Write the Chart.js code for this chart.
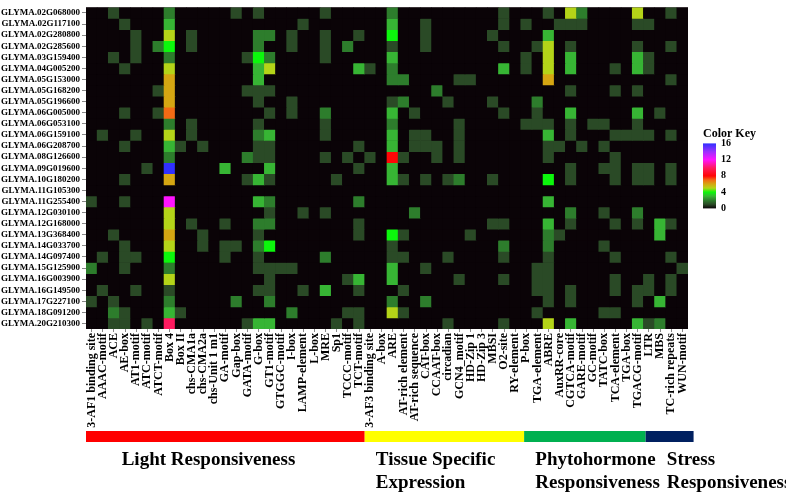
<!DOCTYPE html>
<html>
<head>
<meta charset="utf-8">
<script src="https://cdn.jsdelivr.net/npm/chart.js@4.4.1/dist/chart.umd.min.js"></script>
<style>
  html, body { margin: 0; padding: 0; background: #fff; }
  #wrap { width: 786px; height: 493px; position: relative; }
</style>
</head>
<body>
<div id="wrap"><canvas id="heat"></canvas></div>
<script>
// rows of the heatmap, top to bottom
const genes = [
  'GLYMA.02G068000', 'GLYMA.02G117100', 'GLYMA.02G280800', 'GLYMA.02G285600', 'GLYMA.03G159400',
  'GLYMA.04G005200', 'GLYMA.05G153000', 'GLYMA.05G168200', 'GLYMA.05G196600', 'GLYMA.06G005000',
  'GLYMA.06G053100', 'GLYMA.06G159100', 'GLYMA.06G208700', 'GLYMA.08G126600', 'GLYMA.09G019600',
  'GLYMA.10G180200', 'GLYMA.11G105300', 'GLYMA.11G255400', 'GLYMA.12G030100', 'GLYMA.12G168000',
  'GLYMA.13G368400', 'GLYMA.14G033700', 'GLYMA.14G097400', 'GLYMA.15G125900', 'GLYMA.16G003900',
  'GLYMA.16G149500', 'GLYMA.17G227100', 'GLYMA.18G091200', 'GLYMA.20G210300'
];

// columns, left to right
const motifs = [
  '3-AF1 binding site', 'AAAC-motif', 'ACE', 'AE-box', 'AT1-motif', 'ATC-motif', 'ATCT-motif', 'Box 4',
  'Box II', 'chs-CMA1a', 'chs-CMA2a', 'chs-Unit 1 m1', 'GA-motif', 'Gap-box', 'GATA-motif', 'G-box',
  'GT1-motif', 'GTGGC-motif', 'I-box', 'LAMP-element', 'L-box', 'MRE', 'Sp1', 'TCCC-motif', 'TCT-motif',
  '3-AF3 binding site', 'A-box', 'ARE', 'AT-rich element', 'AT-rich sequence', 'CAT-box', 'CCAAT-box',
  'circadian', 'GCN4_motif', 'HD-Zip 1', 'HD-Zip 3', 'MBSI', 'O2-site', 'RY-element', 'P-box',
  'TGA-element', 'ABRE', 'AuxRR-core', 'CGTCA-motif', 'GARE-motif', 'GC-motif', 'TATC-box', 'TCA-element',
  'TGA-box', 'TGACG-motif',
  'LTR', 'MBS', 'TC-rich repeats', 'WUN-motif'
];

const groupNames = [['Light Responsiveness'], ['Tissue Specific', 'Expression'], ['Phytohormone', 'Responsiveness'], ['Stress', 'Responsiveness']];
const groupColors = ['#ff0000', '#ffff00', '#00b050', '#002060'];
const keyTicks = [16, 12, 8, 4, 0];

// element counts, one line per gene (54 motifs each)
const counts = [
  [0,0,1,0,0,0,0,2,0,0, 0,0,0,1,0,1,0,0,0,0, 0,1,0,0,0,0,0,2,0,0, 0,0,0,0,0,0,0,1,0,0, 0,1,0,5,2,0,0,0,0,5, 0,0,1,0],
  [0,0,0,1,0,0,0,3,0,0, 0,0,0,0,0,0,0,0,0,1, 0,0,0,0,0,0,0,3,0,0, 1,0,0,0,0,0,0,1,0,1, 0,0,1,1,1,0,0,0,0,1, 1,0,0,0],
  [0,0,0,0,1,0,0,5,0,1, 0,0,0,0,0,2,2,0,1,0, 0,1,0,0,1,0,0,4,0,0, 1,0,0,0,0,0,1,0,0,0, 0,3,0,0,0,0,0,0,0,0, 0,0,0,0],
  [0,0,0,0,1,0,2,4,0,1, 0,0,0,0,0,2,0,0,1,0, 0,1,0,2,0,0,0,1,0,0, 1,0,0,0,0,0,0,1,0,0, 1,5,0,1,0,0,0,0,0,1, 0,0,1,0],
  [0,0,1,0,1,0,0,2,0,0, 0,0,0,0,1,4,2,0,0,0, 0,1,0,0,0,0,0,3,0,0, 0,0,0,0,0,0,0,0,0,1, 0,5,0,3,0,0,0,0,0,3, 1,0,0,0],
  [0,0,0,1,0,0,0,5,0,0, 0,0,0,0,0,3,5,0,0,0, 0,0,0,0,3,1,0,2,0,0, 0,0,0,0,0,0,0,3,0,1, 0,5,0,3,0,0,0,1,0,3, 1,0,0,0],
  [0,0,0,0,0,0,0,6,0,0, 0,0,0,0,0,3,0,0,0,0, 0,0,0,0,0,0,0,2,2,0, 0,0,0,1,1,0,0,0,0,0, 0,6,0,0,0,0,0,0,0,0, 0,0,1,0],
  [0,0,0,0,0,0,1,6,0,0, 0,0,0,0,1,1,1,0,0,0, 0,0,0,0,0,0,0,0,0,0, 0,2,0,0,0,0,0,0,0,0, 0,0,0,1,0,0,0,1,0,1, 0,0,0,0],
  [0,0,0,0,0,0,0,6,0,0, 0,0,0,0,0,1,0,0,1,0, 0,0,0,0,0,0,0,1,2,0, 0,0,1,0,0,0,1,0,0,0, 2,0,0,0,0,0,0,0,0,0, 0,0,0,0],
  [0,0,0,1,0,0,1,7,0,0, 0,0,0,0,0,0,1,0,1,0, 0,2,0,0,0,0,0,3,0,1, 0,0,0,0,0,0,0,1,0,0, 1,0,0,3,0,0,0,0,0,3, 0,1,0,0],
  [0,0,0,0,0,0,0,2,0,1, 0,0,0,0,0,1,0,0,0,0, 0,1,0,0,0,0,0,2,0,0, 0,0,0,1,0,0,0,0,0,1, 1,1,0,1,0,1,1,0,0,1, 0,0,0,0],
  [0,1,0,0,1,0,0,5,0,1, 0,0,0,0,0,2,3,0,0,0, 0,1,0,0,0,0,0,3,0,1, 1,0,0,1,0,0,0,0,0,0, 0,3,0,1,0,0,0,1,1,1, 1,0,1,0],
  [0,0,0,1,0,0,0,3,1,0, 1,0,0,0,0,1,1,0,0,0, 0,0,0,0,1,0,0,3,0,1, 1,1,0,1,0,0,0,0,0,0, 0,1,1,0,1,0,1,0,0,0, 0,0,0,0],
  [0,0,0,0,0,0,0,2,0,0, 0,0,0,0,2,1,1,0,0,0, 0,1,0,1,0,1,0,8,1,0, 0,1,0,1,0,0,0,0,0,0, 0,1,0,0,0,0,0,1,0,0, 0,0,0,0],
  [0,0,0,0,0,1,0,16,0,0, 0,0,3,0,0,0,3,0,0,0, 0,0,0,0,1,0,0,3,0,0, 0,0,0,0,0,0,0,0,0,0, 0,0,0,1,0,0,1,1,0,1, 1,0,1,0],
  [0,0,0,1,0,0,0,6,0,0, 0,0,0,0,1,3,1,0,0,0, 0,0,1,0,0,0,0,3,1,0, 1,0,1,2,0,0,1,0,0,0, 0,4,0,1,0,0,0,1,0,1, 1,0,1,0],
  [0,0,0,0,0,0,0,0,0,0, 0,0,0,0,0,0,0,0,0,0, 0,0,0,0,0,0,0,0,0,0, 0,0,0,0,0,0,0,0,0,0, 0,0,0,0,0,0,0,0,0,0, 0,0,0,0],
  [1,0,0,1,0,0,0,12,0,0, 0,0,0,0,0,3,2,0,0,0, 0,0,0,0,2,0,0,0,0,0, 0,0,0,0,0,0,0,0,0,0, 0,3,0,0,0,0,0,0,0,0, 0,0,0,0],
  [0,0,0,0,0,0,0,5,0,0, 0,0,0,0,0,0,1,0,0,1, 0,1,0,0,0,0,0,0,0,2, 0,0,0,0,0,0,0,0,0,0, 0,0,0,2,0,0,1,0,0,2, 0,0,0,0],
  [0,0,0,0,0,0,0,5,0,1, 0,0,1,0,0,2,2,0,0,0, 0,0,0,0,1,0,0,0,0,0, 0,0,0,0,0,0,1,1,0,0, 0,3,0,1,0,0,0,1,0,1, 0,3,1,0],
  [0,0,1,0,0,0,0,6,0,0, 1,0,0,0,0,1,0,0,0,0, 0,0,0,0,1,0,0,4,1,0, 0,0,0,0,1,0,0,0,0,0, 0,2,1,0,0,0,0,0,0,0, 0,3,0,0],
  [0,0,0,1,0,0,0,5,0,0, 1,0,1,1,0,2,4,0,0,0, 0,0,0,0,0,0,0,1,0,0, 0,0,0,0,0,0,0,2,0,0, 0,2,0,0,0,0,1,0,0,0, 0,0,0,0],
  [0,1,0,1,1,0,0,4,0,0, 0,0,1,0,0,1,0,0,0,0, 0,2,0,0,0,0,0,1,1,0, 0,0,1,0,0,0,0,1,0,0, 0,1,0,0,0,0,0,1,0,0, 0,0,1,0],
  [2,0,0,1,0,0,0,2,0,0, 0,0,0,0,0,1,1,1,1,0, 0,0,0,0,0,0,0,3,0,0, 1,0,0,0,0,0,0,0,0,0, 1,1,0,0,0,0,0,0,0,0, 0,0,0,1],
  [0,0,0,0,0,0,0,5,0,0, 0,0,0,0,0,0,1,0,0,0, 0,0,0,1,3,0,0,3,0,0, 0,0,0,1,0,0,0,1,0,0, 1,1,0,0,0,0,0,1,0,0, 1,0,1,0],
  [0,1,0,0,1,0,0,1,0,0, 0,0,0,0,0,1,1,0,0,1, 0,3,0,0,1,0,0,0,1,0, 0,0,0,0,0,0,0,0,0,0, 1,1,0,1,0,0,0,1,0,1, 1,0,1,0],
  [1,0,1,0,0,0,0,2,0,0, 0,0,0,2,0,0,2,0,0,0, 0,0,0,0,0,0,0,2,0,0, 2,0,0,0,0,0,0,0,0,0, 0,1,0,1,0,0,0,0,0,1, 0,3,0,0],
  [0,0,2,1,0,0,0,3,1,0, 0,0,0,0,0,0,0,0,2,0, 0,0,0,1,1,0,0,5,1,0, 0,0,0,0,0,0,0,0,0,0, 1,0,0,0,0,0,1,1,0,0, 0,0,0,0],
  [0,0,1,1,0,1,0,10,0,0, 0,0,0,0,1,3,3,0,0,0, 0,0,1,0,1,0,0,0,0,0, 0,0,1,0,0,0,0,1,0,0, 0,5,0,3,0,0,0,0,0,3, 1,2,0,0]
];

// palette of the colour key (value -> colour)
const colorStops = [
  [0, '#0a0307'], [1, '#2a4a26'], [2, '#2d7d2c'], [3, '#37b534'], [4, '#0cf70c'],
  [5, '#b4d418'], [6, '#d5a612'], [7, '#f26a14'], [8, '#ff0606'], [10, '#ff1a60'],
  [12, '#ff14ff'], [14, '#9a30ff'], [16, '#3030ff']
];

function mix(c1, c2, t) {
  const a = parseInt(c1.slice(1), 16), b = parseInt(c2.slice(1), 16);
  const ch = s => Math.round(((a >> s) & 255) * (1 - t) + ((b >> s) & 255) * t);
  return `rgb(${ch(16)},${ch(8)},${ch(0)})`;
}

function colorFor(v) {
  for (let i = 1; i < colorStops.length; i++) {
    const [v0, c0] = colorStops[i - 1];
    const [v1, c1] = colorStops[i];
    if (v <= v1) return mix(c0, c1, (v - v0) / (v1 - v0));
  }
  return colorStops[colorStops.length - 1][1];
}

const serif = 'Liberation Serif, Times New Roman, serif';

// one floating bar per cell: dataset = gene row, spanning [r, r+1] on a reversed y axis
const datasets = genes.map((g, r) => ({
  label: g,
  data: motifs.map(() => [r, r + 1]),
  backgroundColor: counts[r].map(colorFor),
  borderWidth: 0,
  borderSkipped: false,
  barPercentage: 1,
  categoryPercentage: 1,
  grouped: false
}));

const annotate = {
  id: 'annotate',
  beforeDatasetsDraw(chart) {
    const { ctx, chartArea: a } = chart;
    ctx.save();
    ctx.fillStyle = colorFor(0);
    ctx.fillRect(a.left, a.top, a.width, a.height);
    ctx.restore();
  },
  afterDraw(chart) {
    const { ctx, chartArea: a } = chart;
    const x = chart.scales.x;
    // group strip as it sits in the figure (in column units)
    const edges = [0, 25, 39.3, 50.2, 54.5];
    const textStarts = [3.2, 26, 40.3, 52.1];
    const yBar = x.bottom + 2;
    ctx.save();
    groupNames.forEach((lines, i) => {
      const x0 = x.getPixelForValue(edges[i] - 0.5);
      const x1 = x.getPixelForValue(edges[i + 1] - 0.5);
      ctx.fillStyle = groupColors[i];
      ctx.fillRect(x0, yBar, x1 - x0, 11);
      ctx.fillStyle = '#000';
      ctx.font = `bold 19px ${serif}`;
      ctx.textAlign = 'left';
      ctx.textBaseline = 'alphabetic';
      const tx = x.getPixelForValue(textStarts[i] - 0.5);
      lines.forEach((t, j) => ctx.fillText(t, tx, yBar + 34 + j * 23));
    });

    // colour key
    const kx = a.right + 15, ky = a.top + 136, kw = 13, kh = 65;
    const grad = ctx.createLinearGradient(0, ky + kh, 0, ky);
    colorStops.forEach(([v, c]) => grad.addColorStop(v / 16, c));
    ctx.fillStyle = grad;
    ctx.fillRect(kx, ky, kw, kh);
    ctx.fillStyle = '#000';
    ctx.font = `bold 12px ${serif}`;
    ctx.textBaseline = 'alphabetic';
    ctx.fillText('Color Key', kx, ky - 6);
    ctx.font = `bold 10px ${serif}`;
    ctx.textBaseline = 'middle';
    keyTicks.forEach(v => ctx.fillText(String(v), kx + kw + 5, ky + kh * (1 - v / 16)));
    ctx.restore();
  }
};

new Chart(document.getElementById('heat'), {
  type: 'bar',
  data: { labels: motifs, datasets },
  options: {
    responsive: true,
    maintainAspectRatio: false,
    animation: false,
    layout: { padding: { left: 0, top: 6, right: 98, bottom: 64 } },
    plugins: { legend: { display: false }, tooltip: { enabled: false } },
    scales: {
      x: {
        type: 'category',
        ticks: {
          autoSkip: false, maxRotation: 90, minRotation: 90, padding: 1, color: '#000',
          font: { family: serif, size: 12, weight: 'bold' }
        },
        grid: { drawOnChartArea: false, offset: false, tickLength: 3, color: '#888' },
        border: { display: false },
        afterFit: s => { s.height = 100; }
      },
      y: {
        type: 'linear',
        reverse: true,
        min: 0,
        max: genes.length,
        afterBuildTicks: s => { s.ticks = genes.map((g, i) => ({ value: i + 0.5 })); },
        ticks: {
          autoSkip: false, padding: 2, color: '#000',
          font: { family: serif, size: 9, weight: 'bold' },
          callback: (v, i) => genes[i]
        },
        grid: { drawOnChartArea: false, tickLength: 4, color: '#888' },
        border: { display: false },
        afterFit: s => { s.width = 86; }
      }
    }
  },
  plugins: [annotate]
});
</script>
</body>
</html>
